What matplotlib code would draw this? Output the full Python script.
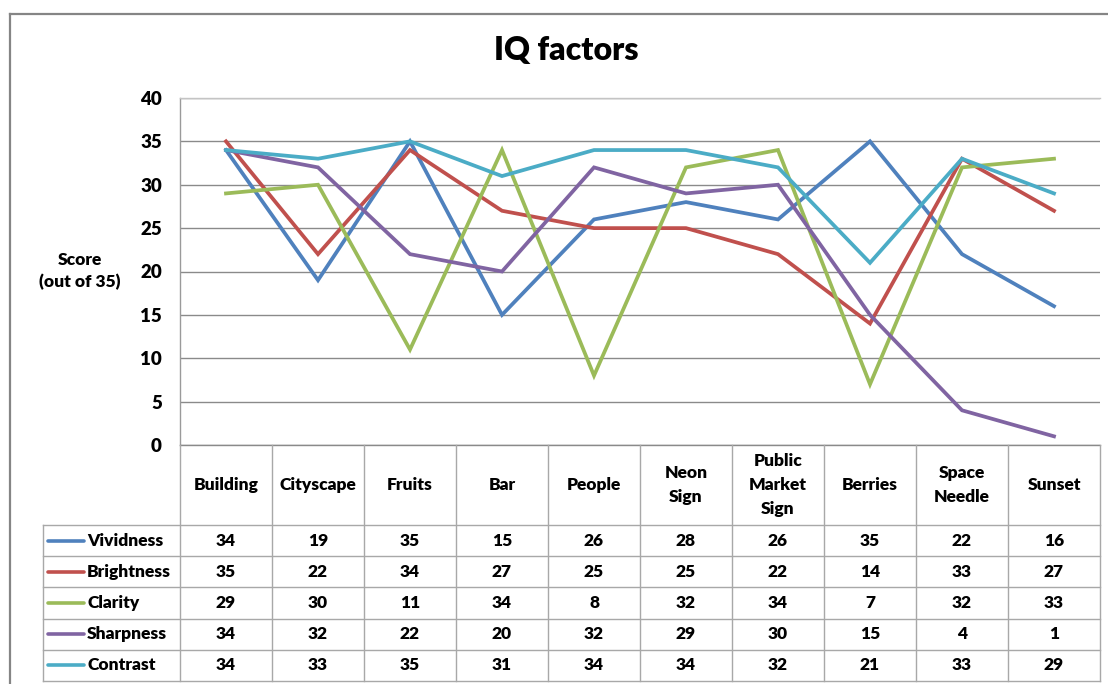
import matplotlib.pyplot as plt
from matplotlib.lines import Line2D

# categories and scores (out of 35)
categories = ['Building', 'Cityscape', 'Fruits', 'Bar', 'People', 'Neon\nSign',
              'Public\nMarket\nSign', 'Berries', 'Space\nNeedle', 'Sunset']
series_names = ['Vividness', 'Brightness', 'Clarity', 'Sharpness', 'Contrast']
vividness = [34, 19, 35, 15, 26, 28, 26, 35, 22, 16]
brightness = [35, 22, 34, 27, 25, 25, 22, 14, 33, 27]
clarity = [29, 30, 11, 34, 8, 32, 34, 7, 32, 33]
sharpness = [34, 32, 22, 20, 32, 29, 30, 15, 4, 1]
contrast = [34, 33, 35, 31, 34, 34, 32, 21, 33, 29]
y_ticks = [0, 5, 10, 15, 20, 25, 30, 35, 40]

series = [vividness, brightness, clarity, sharpness, contrast]
colors = ['#4F81BD', '#C0504D', '#9BBB59', '#8064A2', '#4BACC6']

plt.rcParams['font.family'] = ['Lato', 'DejaVu Sans']
plt.rcParams['font.weight'] = 'bold'

W, H = 1108, 684
fig = plt.figure(figsize=(W / 100, H / 100), dpi=100)

def px(x0, y0, x1, y1):
    # pixel box (top-left origin) -> figure fraction rect
    return [x0 / W, 1 - y1 / H, (x1 - x0) / W, (y1 - y0) / H]

# outer chart border (only left/top visible in the crop)
fig.add_artist(Line2D([10 / W, 10 / W], [0, 1 - 14 / H], color='#858585', lw=1.6))
fig.add_artist(Line2D([10 / W, 1.0], [1 - 14 / H, 1 - 14 / H], color='#858585', lw=1.6))

fig.text(566 / W, 1 - 51 / H, 'IQ factors', ha='center', va='center', fontsize=23, fontweight='heavy')

# ---- line chart ----
ax = fig.add_axes(px(180, 98, 1100, 445))
x = list(range(len(categories)))
for vals, c in zip(series, colors):
    ax.plot(x, vals, color=c, lw=2.7, solid_joinstyle='miter', zorder=3)
ax.set_xlim(-0.5, len(categories) - 0.5)
ax.set_ylim(0, 40)
ax.set_yticks(y_ticks)
ax.set_xticks([])
ax.tick_params(axis='y', length=0, pad=13, labelsize=13.5)
for lbl in ax.get_yticklabels():
    lbl.set_fontweight('heavy')
ax.yaxis.grid(True, color='#8a8a8a', lw=1.0)
ax.set_axisbelow(True)
ax.spines['right'].set_visible(False)
ax.spines['top'].set_color('#c4c4c4')
ax.spines['left'].set_color('#9a9a9a')
ax.spines['bottom'].set_color('#8a8a8a')
for s in ['top', 'left', 'bottom']:
    ax.spines[s].set_linewidth(1.0)
fig.text(80 / W, 1 - 271 / H, 'Score\n(out of 35)', ha='center', va='center',
         fontsize=12.5, fontweight='heavy', linespacing=1.45)

# ---- data table ----
tab = fig.add_axes(px(43, 445, 1100, 681))
n = len(categories)
leg_w = 137 / 92
hdr = 2.56
nrows = len(series_names)
tab.set_xlim(-leg_w - 0.5, n - 0.5)
tab.set_ylim(hdr + nrows, 0)
tab.axis('off')
grid_c = '#a8a8a8'
for k in range(nrows + 1):
    tab.plot([-leg_w - 0.5, n - 0.5], [hdr + k, hdr + k], color=grid_c, lw=1.0, clip_on=False)
for i in range(n + 1):
    tab.plot([i - 0.5, i - 0.5], [0, hdr + nrows], color=grid_c, lw=1.0, clip_on=False)
tab.plot([-leg_w - 0.5] * 2, [hdr, hdr + nrows], color=grid_c, lw=1.0, clip_on=False)

fs = 12.5
for i, cat in enumerate(categories):
    tab.text(i, hdr / 2, cat, ha='center', va='center', fontsize=fs,
             fontweight='heavy', linespacing=1.6)
for r, (name, vals, c) in enumerate(zip(series_names, series, colors)):
    yc = hdr + r + 0.5
    tab.plot([-leg_w - 0.5 + 0.05, -leg_w - 0.5 + 0.45], [yc, yc], color=c, lw=2.6,
             solid_capstyle='round', clip_on=False)
    tab.text(-leg_w - 0.5 + 0.48, yc, name, ha='left', va='center', fontsize=fs, fontweight='heavy')
    for i, v in enumerate(vals):
        tab.text(i, yc, str(v), ha='center', va='center', fontsize=fs, fontweight='heavy')

fig.savefig('out.png', dpi=100, facecolor='white')
